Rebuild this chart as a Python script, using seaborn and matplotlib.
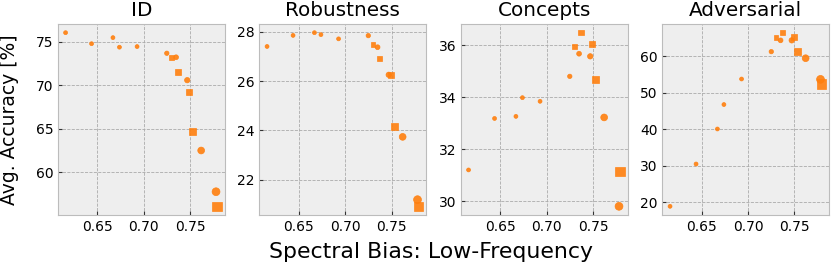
import numpy as np
import pandas as pd
import matplotlib
matplotlib.use("Agg")
import matplotlib.pyplot as plt
import seaborn as sns
from matplotlib.ticker import MultipleLocator

# spectral bias (low-frequency) of each model, shared by all panels
spectral_bias = [0.616, 0.644, 0.667, 0.674, 0.693, 0.725, 0.730, 0.735,
                 0.737, 0.747, 0.749, 0.753, 0.762, 0.778, 0.779]
arch = ["o", "o", "o", "o", "o", "o", "s", "o",
        "s", "o", "s", "s", "o", "o", "s"]
scale = [1, 1, 1, 1, 1, 2, 3, 3, 4, 4, 5, 6, 6, 7, 8]

acc_id = [76.07, 74.80, 75.50, 74.40, 74.47, 73.70, 73.17, 73.24,
          71.56, 70.60, 69.27, 64.65, 62.50, 57.75, 56.07]
acc_robustness = [27.41, 27.86, 27.97, 27.89, 27.72, 27.85, 27.49, 27.38,
                  26.92, 26.26, 26.24, 24.17, 23.74, 21.19, 20.92]
acc_concepts = [31.21, 33.19, 33.27, 33.99, 33.85, 34.81, 35.97, 35.68,
                36.49, 35.58, 36.06, 34.68, 33.23, 29.81, 31.15]
acc_adversarial = [18.9, 30.5, 40.1, 46.8, 53.8, 61.3, 65.2, 64.4,
                   66.5, 64.4, 65.4, 61.3, 59.5, 53.7, 52.5]

titles = ["ID", "Robustness", "Concepts", "Adversarial"]

df = pd.DataFrame({
    "bias": spectral_bias,
    "arch": arch,
    "scale": scale,
    "ID": acc_id,
    "Robustness": acc_robustness,
    "Concepts": acc_concepts,
    "Adversarial": acc_adversarial,
})

plt.style.use("bmh")
plt.rcParams["font.family"] = ["DejaVu Sans"]
plt.rcParams["grid.color"] = "#aaaaaa"
plt.rcParams["grid.linewidth"] = 0.6

size_map = {1: 8, 2: 10, 3: 12, 4: 15, 5: 18, 6: 24, 7: 32, 8: 48}
orange = "#ff7f0e"

fig, axes = plt.subplots(1, 4, figsize=(8.31, 2.64), dpi=100)
fig.subplots_adjust(left=58 / 831, right=829 / 831, top=1 - 24 / 264,
                    bottom=1 - 215 / 264, wspace=0.21)

for ax, t in zip(axes, titles):
    sns.scatterplot(data=df, x="bias", y=t, style="arch",
                    markers={"o": "o", "s": "s"}, size="scale", sizes=size_map,
                    color=orange, edgecolor=orange, linewidth=0.5, alpha=0.9,
                    legend=False, ax=ax, zorder=3)
    ax.set_title(t, fontsize=14.4)
    ax.set_xlabel("")
    ax.set_ylabel("")
    ax.xaxis.set_major_locator(MultipleLocator(0.05))
    ax.tick_params(length=3, color="#333333")

axes[0].set_ylabel("Avg. Accuracy [%]", fontsize=13.5)
axes[0].yaxis.set_label_coords(-39 / 167, 0.5)
fig.text(431 / 831, 6 / 264, "Spectral Bias: Low-Frequency", ha="center",
         va="baseline", fontsize=15.8)

fig.savefig("out.png", dpi=100)
